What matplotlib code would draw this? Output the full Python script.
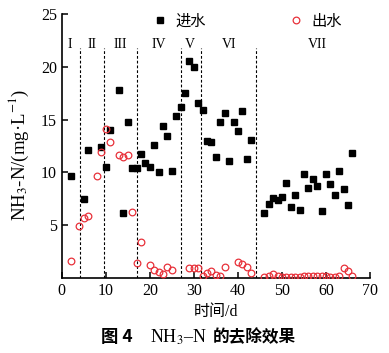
import matplotlib
matplotlib.use('Agg')
import matplotlib.pyplot as plt
import numpy as np

plt.rcParams['font.family'] = ['Liberation Serif', 'Noto Sans CJK SC']
plt.rcParams['mathtext.fontset'] = 'stix'

# influent NH3-N (day, mg/L)
in_day = [2, 5, 6, 9, 10, 11, 13, 14, 15, 16, 17, 18, 19, 20, 21, 22, 23, 24, 25, 26,
          27, 28, 29, 30, 31, 32, 33, 34, 35, 36, 37, 38, 39, 40, 41, 42, 43,
          46, 47, 48, 49, 50, 51, 52, 53, 54, 55, 56, 57, 58, 59, 60, 61, 62, 63, 64, 65, 66]
in_val = [9.7, 7.5, 12.1, 12.4, 10.5, 14.0, 17.8, 6.2, 14.8, 10.4, 10.4, 11.7, 10.9, 10.5, 12.6, 10.0, 14.4, 13.4, 10.1, 15.3,
          16.2, 17.5, 20.5, 20.0, 16.6, 15.9, 13.0, 12.9, 11.5, 14.8, 15.6, 11.1, 14.8, 13.9, 15.8, 11.3, 13.1,
          6.2, 7.0, 7.55, 7.35, 7.7, 9.0, 6.7, 7.9, 6.4, 9.8, 8.5, 9.35, 8.7, 6.35, 9.8, 8.9, 7.9, 10.1, 8.4, 6.9, 11.8]

# effluent NH3-N
out_day = [2, 4, 5, 6, 8, 9, 10, 11, 13, 14, 15, 16, 17, 18, 20, 21, 22, 23, 24, 25,
           29, 30, 31, 32, 33, 34, 35, 36, 37, 40, 41, 42, 43,
           46, 47, 48, 49, 50, 51, 52, 53, 54, 55, 56, 57, 58, 59, 60, 61, 62, 63, 64, 65, 66]
out_val = [1.6, 4.9, 5.7, 5.9, 9.7, 11.9, 14.1, 12.9, 11.6, 11.5, 11.65, 6.25, 1.4, 3.45, 1.2, 0.8, 0.6, 0.4, 1.0, 0.76,
           0.9, 0.95, 0.95, 0.2, 0.45, 0.7, 0.25, 0.15, 1.07, 1.5, 1.3, 1.0, 0.45,
           0.1, 0.2, 0.35, 0.2, 0.1, 0.1, 0.1, 0.1, 0.1, 0.2, 0.2, 0.2, 0.2, 0.2, 0.2, 0.1, 0.1, 0.2, 0.9, 0.7, 0.2]

stage_lines = [4.2, 9.5, 17, 27, 31.7, 44.2]
stage_names = ['I', 'II', 'III', 'IV', 'V', 'VI', 'VII']
stage_pos = [1.8, 6.8, 13.3, 22, 29, 38, 58]

fig = plt.figure(figsize=(3.89, 3.53), dpi=100)
ax = fig.add_axes([0.159, 0.2125, 0.792, 0.748])

ax.vlines(stage_lines, 0, 21.8, colors='black', linestyles=(0, (2.5, 1.8)), linewidth=0.8)
for name, xp in zip(stage_names, stage_pos):
    ax.text(xp, 22.1, name, ha='center', va='center', fontsize=10)

ax.plot(in_day, in_val, 's', color='black', markersize=4.2, label='进水', zorder=3)
ax.plot(out_day, out_val, 'o', markerfacecolor='none', markeredgecolor='#e8313a',
        markeredgewidth=0.9, markersize=4.8, label='出水', zorder=3)

ax.set_xlim(0, 70)
ax.set_ylim(0, 25)
ax.set_xticks(np.arange(0, 71, 10))
ax.set_yticks([5, 10, 15, 20, 25])
ax.spines['top'].set_visible(False)
ax.spines['right'].set_visible(False)
for s in ['left', 'bottom']:
    ax.spines[s].set_linewidth(1.2)
ax.tick_params(direction='in', length=4, width=1.1, labelsize=11.5)

leg = ax.legend(ncol=2, frameon=False, loc='upper left', bbox_to_anchor=(0.25, 1.05),
                handlelength=1.0, handletextpad=0.5, columnspacing=5.4, fontsize=11)

fig.text(0.555, 0.116, '时间/d', ha='center', va='center', fontsize=11.5)
fig.text(0.048, 0.56, 'NH$_3$-N/(mg·L$^{-1}$)', rotation=90, ha='center', va='center', fontsize=13.5)
# caption: label part and chinese part drawn separately
fig.text(0.26, 0.045, '图 4', ha='left', va='center', fontsize=12.5,
         family=['Noto Sans CJK SC'], fontweight='bold')
fig.text(0.386, 0.045, 'NH$_3$–N', ha='left', va='center', fontsize=13)
fig.text(0.548, 0.045, '的去除效果', ha='left', va='center', fontsize=12,
         family=['Noto Sans CJK SC'], fontweight='bold')

fig.savefig('out.png', dpi=100)
